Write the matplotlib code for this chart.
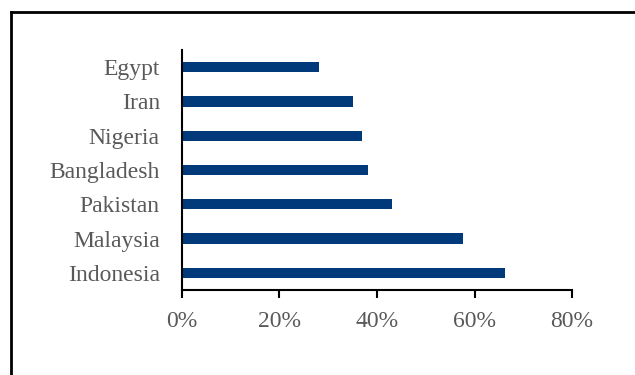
import matplotlib
matplotlib.use("Agg")
import matplotlib.pyplot as plt
from matplotlib.lines import Line2D
from matplotlib.ticker import PercentFormatter

countries = ['Indonesia', 'Malaysia', 'Pakistan', 'Bangladesh', 'Nigeria', 'Iran', 'Egypt']
shares = [66.3, 57.6, 43.1, 38.1, 37.0, 35.1, 28.1]
xticks = [0, 20, 40, 60, 80]

plt.rcParams['font.family'] = 'Liberation Serif'
plt.rcParams['font.size'] = 17

fig = plt.figure(figsize=(6.35, 3.75), dpi=100)
ax = fig.add_axes([0.2866, 0.2267, 0.6142, 0.64])

ax.barh(range(len(countries)), shares, height=0.3, color='#003a7a')
ax.set_yticks(range(len(countries)))
ax.set_yticklabels(countries)
ax.set_ylim(-0.5, 6.5)
ax.set_xlim(0, 80)
ax.set_xticks(xticks)
ax.xaxis.set_major_formatter(PercentFormatter(decimals=0))

for s in ['top', 'right']:
    ax.spines[s].set_visible(False)
for s in ['left', 'bottom']:
    ax.spines[s].set_linewidth(1.5)
    ax.spines[s].set_color('black')
ax.tick_params(axis='y', length=0, pad=16, colors='#595959')
ax.tick_params(axis='x', length=6, width=1.5, direction='out', pad=9, colors='#595959', color='black')

# frame around the picture (top and left edges)
fig.add_artist(Line2D([11 / 635, 1], [1 - 12 / 375, 1 - 12 / 375], color='black', lw=2, transform=fig.transFigure))
fig.add_artist(Line2D([11 / 635, 11 / 635], [0, 1 - 12 / 375], color='black', lw=2, transform=fig.transFigure))

fig.savefig('out.png', dpi=100)
